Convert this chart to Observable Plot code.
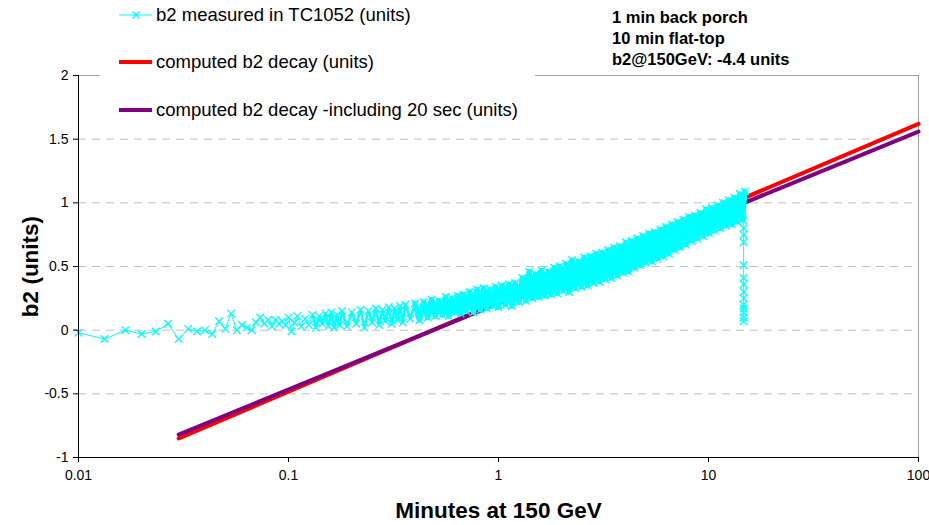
<!DOCTYPE html>
<html>
<head>
<meta charset="utf-8">
<script src="https://cdn.jsdelivr.net/npm/d3@7"></script>
<script src="https://cdn.jsdelivr.net/npm/@observablehq/plot@0.6"></script>
<style>
  body { margin: 0; background: #fff; font-family: Arial, "Liberation Sans", sans-serif; }
  #wrap { position: relative; width: 929px; height: 525px; }
  #legend { position: absolute; left: 100px; top: 0; width: 435px; height: 128px; background: #fff; }
  .item { position: absolute; left: 19px; height: 22px; line-height: 22px; font-size: 18.5px; color: #000; white-space: nowrap; }
  .item svg { position: absolute; left: 0; top: 0; }
  .item span { position: absolute; left: 37px; top: 0; }
  #note { position: absolute; left: 612px; top: 7px; font-size: 16.5px; font-weight: bold; line-height: 21px; color: #000; }
</style>
</head>
<body>
<div id="wrap">
  <div id="chart"></div>
  <div id="legend"></div>
  <div id="note"></div>
</div>
<script>
// Measured b2 in TC1052: time at 150 GeV (minutes) and b2 (units)
const measuredTime = [
  0.01, 0.0133, 0.0167, 0.02, 0.0233, 0.0267, 0.03, 0.0333, 0.0367, 0.04,
  0.0433, 0.0467, 0.05, 0.0533, 0.0567, 0.06, 0.0633, 0.0667, 0.07, 0.0733,
  0.0767, 0.08, 0.0833, 0.0867, 0.09, 0.0933, 0.0967, 0.1, 0.1033, 0.1067,
  0.11, 0.115, 0.12, 0.125, 0.13, 0.135, 0.14, 0.145, 0.15, 0.155,
  0.16, 0.165, 0.17, 0.175, 0.18, 0.19, 0.2, 0.21, 0.22, 0.23,
  0.24, 0.25, 0.26, 0.27, 0.28, 0.29, 0.3, 0.31, 0.32, 0.33,
  0.34, 0.35, 0.36, 0.38, 0.4, 0.42, 0.44, 0.46, 0.48, 0.5,
  0.52, 0.54, 0.56, 0.58, 0.6, 0.62, 0.64, 0.66, 0.68, 0.7,
  0.73, 0.76, 0.79, 0.82, 0.85, 0.88, 0.91, 0.94, 0.97, 1.0,
  1.04, 1.08, 1.12, 1.16, 1.2, 1.25, 1.3, 1.35, 1.4, 1.45,
  1.5, 1.55, 1.6, 1.66, 1.72, 1.78, 1.84, 1.9, 1.96, 2.03,
  2.1, 2.17, 2.24, 2.32, 2.4, 2.48, 2.56, 2.65, 2.74, 2.83,
  2.92, 3.02, 3.12, 3.22, 3.33, 3.44, 3.55, 3.67, 3.79, 3.91,
  4.04, 4.17, 4.3, 4.44, 4.58, 4.73, 4.88, 5.04, 5.2, 5.37,
  5.54, 5.72, 5.9, 6.09, 6.28, 6.48, 6.69, 6.9, 7.12, 7.35,
  7.58, 7.82, 8.07, 8.33, 8.6, 8.87, 9.15, 9.44, 9.74, 10.05,
  10.37, 10.7, 11.04, 11.39, 11.75, 12.12, 12.5, 12.9, 13.3, 13.7,
  14.1, 14.5, 14.9,
  14.7, 14.7, 14.7, 14.7, 14.7, 14.7, 14.7, 14.7, 14.7, 14.7, 14.7, 14.7, 14.7, 14.7
];
const measuredB2 = [
  -0.02, -0.07, 0.0, -0.03, -0.01, 0.05, -0.07, 0.01, -0.01, 0.0,
  -0.03, 0.07, 0.01, 0.13, 0.0, 0.04, 0.02, 0.0, 0.06, 0.1,
  0.05, 0.08, 0.03, 0.08, 0.05, 0.07, 0.04, 0.1, -0.01, 0.06,
  0.11, 0.03, 0.09, 0.04, 0.12, 0.02, 0.11, 0.05, 0.13, 0.03,
  0.14, 0.02, 0.12, 0.04, 0.15, 0.03, 0.14, 0.05, 0.16, 0.02,
  0.15, 0.06, 0.17, 0.04, 0.16, 0.07, 0.18, 0.05, 0.17, 0.08,
  0.19, 0.06, 0.2, 0.09, 0.21, 0.08, 0.22, 0.1, 0.24, 0.11,
  0.23, 0.12, 0.26, 0.11, 0.25, 0.14, 0.27, 0.13, 0.28, 0.15,
  0.3, 0.14, 0.32, 0.16, 0.33, 0.17, 0.32, 0.19, 0.34, 0.18,
  0.35, 0.2, 0.36, 0.19, 0.37, 0.22, 0.41, 0.23, 0.46, 0.25,
  0.44, 0.26, 0.47, 0.27, 0.46, 0.28, 0.49, 0.29, 0.5, 0.31,
  0.52, 0.3, 0.55, 0.33, 0.54, 0.34, 0.57, 0.35, 0.58, 0.37,
  0.6, 0.38, 0.61, 0.4, 0.63, 0.41, 0.65, 0.43, 0.66, 0.45,
  0.69, 0.46, 0.7, 0.49, 0.72, 0.51, 0.74, 0.53, 0.76, 0.54,
  0.77, 0.56, 0.79, 0.58, 0.81, 0.6, 0.83, 0.63, 0.85, 0.65,
  0.87, 0.67, 0.89, 0.7, 0.9, 0.72, 0.92, 0.74, 0.95, 0.76,
  0.96, 0.78, 0.98, 0.8, 1.0, 0.82, 1.02, 0.83, 1.04, 0.85,
  1.07, 0.87, 1.09,
  0.86, 0.8, 0.75, 0.69, 0.51, 0.41, 0.36, 0.3, 0.25, 0.2, 0.17, 0.14, 0.1, 0.07
];

// Computed b2 decay curves (straight in log time)
const decayTime = [0.03, 1, 100];
const decayB2 = [-0.85, 0.22, 1.62];
const decay20Time = [0.03, 1, 100];
const decay20B2 = [-0.82, 0.21, 1.56];

// Axis ticks
const xTicks = [0.01, 0.1, 1, 10, 100];
const yTicks = [-1, -0.5, 0, 0.5, 1, 1.5, 2];
const gridValues = [-0.5, 0, 0.5, 1, 1.5];

const seriesNames = [
  "b2 measured in TC1052 (units)",
  "computed b2 decay (units)",
  "computed b2 decay -including 20 sec (units)"
];
const seriesColors = ["#00FFFF", "#FF0000", "#800080"];
const noteLines = ["1 min back porch", "10 min flat-top", "b2@150GeV: -4.4 units"];

const measured = measuredTime.map((t, i) => ({t, b2: measuredB2[i], i}));
const decay = decayTime.map((t, i) => ({t, b2: decayB2[i]}));
const decay20 = decay20Time.map((t, i) => ({t, b2: decay20B2[i]}));
// densely sampled stretches of the scan, drawn with heavier traces
const denseEarly = measured.filter(d => d.i >= 34 && d.i <= 64);
const denseLate = measured.filter(d => d.i >= 64 && d.i <= 172);

const chart = Plot.plot({
  width: 929,
  height: 525,
  marginLeft: 78,
  marginRight: 11,
  marginTop: 75,
  marginBottom: 68,
  style: {fontFamily: "Arial, 'Liberation Sans', sans-serif", color: "#000", background: "#fff"},
  x: {type: "log", domain: [0.01, 100]},
  y: {domain: [-1, 2]},
  marks: [
    Plot.gridY(gridValues, {stroke: "#c0c0c0", strokeOpacity: 1, strokeDasharray: "8,6"}),
    Plot.ruleY([2], {stroke: "#a0a0a0"}),
    Plot.ruleX([100], {stroke: "#a0a0a0"}),
    Plot.line(decay, {x: "t", y: "b2", stroke: seriesColors[1], strokeWidth: 4}),
    Plot.line(decay20, {x: "t", y: "b2", stroke: seriesColors[2], strokeWidth: 4}),
    Plot.line(measured, {x: "t", y: "b2", stroke: seriesColors[0], strokeWidth: 1}),
    Plot.line(denseEarly, {x: "t", y: "b2", stroke: seriesColors[0], strokeWidth: 2.5}),
    Plot.line(denseLate, {x: "t", y: "b2", stroke: seriesColors[0], strokeWidth: 5.5}),
    Plot.dot(measured, {x: "t", y: "b2", symbol: "times", r: 3.5, stroke: seriesColors[0], strokeWidth: 1.3}),
    Plot.ruleX([0.01], {stroke: "#000"}),
    Plot.ruleY([-1], {stroke: "#000"}),
    Plot.axisX(xTicks, {tickSize: 5, tickPadding: 8, fontSize: 14, tickFormat: d => String(d), label: null}),
    Plot.axisY(yTicks, {tickSize: 5, tickPadding: 5, fontSize: 14, tickFormat: d => String(d), label: null}),
    Plot.text(["Minutes at 150 GeV"], {frameAnchor: "bottom", lineAnchor: "middle", dy: 53, fontSize: 22.5, fontWeight: "bold"}),
    Plot.text(["b2 (units)"], {frameAnchor: "left", textAnchor: "middle", lineAnchor: "middle", dx: -48, rotate: -90, fontSize: 22.5, fontWeight: "bold"})
  ]
});
document.getElementById("chart").appendChild(chart);

// Legend entries
const legend = document.getElementById("legend");
const itemCenters = [15, 62, 110];
seriesNames.forEach((name, i) => {
  const item = document.createElement("div");
  item.className = "item";
  item.style.top = (itemCenters[i] - 11) + "px";
  const sw = i === 0
    ? `<svg width="34" height="22"><line x1="0" y1="11" x2="33" y2="11" stroke="${seriesColors[0]}" stroke-width="1"/>` +
      `<path d="M13.5,7.5L20.5,14.5M13.5,14.5L20.5,7.5" stroke="${seriesColors[0]}" stroke-width="1.3"/></svg>`
    : `<svg width="34" height="22"><line x1="0" y1="11" x2="33" y2="11" stroke="${seriesColors[i]}" stroke-width="4"/></svg>`;
  item.innerHTML = sw + `<span>${name}</span>`;
  legend.appendChild(item);
});

document.getElementById("note").innerHTML = noteLines.join("<br>");
</script>
</body>
</html>
